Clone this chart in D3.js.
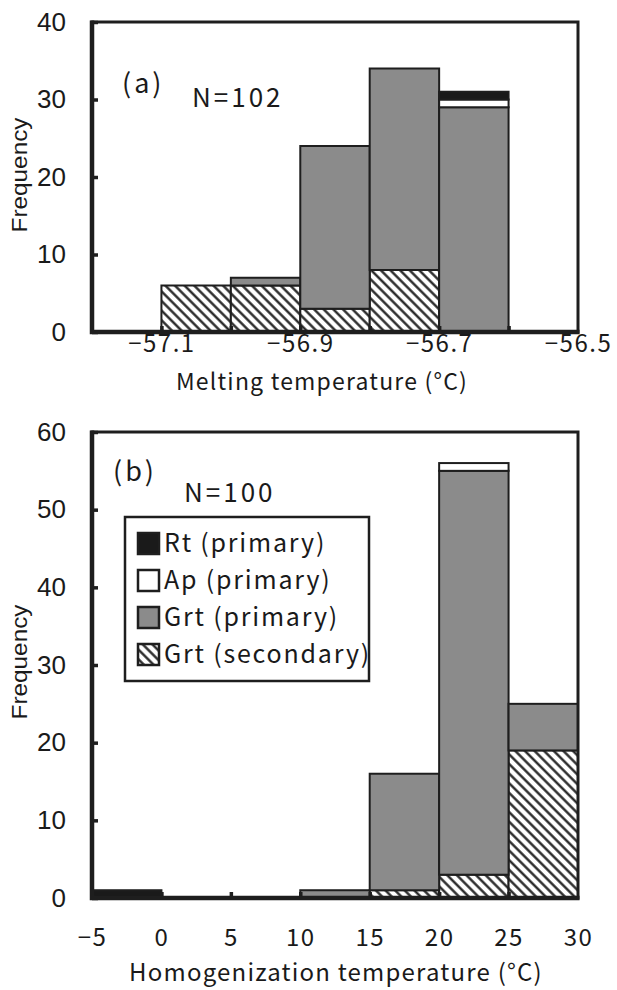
<!DOCTYPE html>
<html>
<head>
  <meta charset="utf-8">
  <title>Fluid inclusion histograms</title>
  <script src="https://d3js.org/d3.v7.min.js"></script>
  <style>
    body { margin: 0; background: #fff; }
    .jp { font-family: "Noto Sans CJK JP", "Noto Sans", sans-serif; fill: #1a1a1a; }
    .num { font-family: "Liberation Sans Narrow", "Liberation Sans", Arial, sans-serif; fill: #1a1a1a; }
  </style>
</head>
<body>
<script>
  // ---- data ----
  // (a) melting temperature, bins 0.1 degC wide (left edges)
  const meltBins = [-57.1, -57.0, -56.9, -56.8, -56.7];
  const meltRt = [0, 0, 0, 0, 1];
  const meltAp = [0, 0, 0, 0, 1];
  const meltGrtPrim = [0, 1, 21, 26, 29];
  const meltGrtSec = [6, 6, 3, 8, 0];
  const meltLabels = [-57.1, -56.9, -56.7, -56.5];
  const meltYTicks = [0, 10, 20, 30, 40];

  // (b) homogenization temperature, bins 5 degC wide (left edges)
  const homBins = [-5, 0, 5, 10, 15, 20, 25];
  const homRt = [1, 0, 0, 0, 0, 0, 0];
  const homAp = [0, 0, 0, 0, 0, 1, 0];
  const homGrtPrim = [0, 0, 0, 1, 15, 52, 6];
  const homGrtSec = [0, 0, 0, 0, 1, 3, 19];
  const homLabels = [-5, 0, 5, 10, 15, 20, 25, 30];
  const homYTicks = [0, 10, 20, 30, 40, 50, 60];

  const seriesKeys = ["sec", "prim", "ap", "rt"]; // bottom -> top
  const legendNames = ["Rt (primary)", "Ap (primary)", "Grt (primary)", "Grt (secondary)"];
  const legendKeys = ["rt", "ap", "prim", "sec"];

  const fills = { sec: "url(#hatch)", prim: "#8b8b8b", ap: "#fff", rt: "#1a1a1a" };
  const ink = "#1e1e1e";

  const svg = d3.select("body").append("svg")
    .attr("width", 617).attr("height", 990);

  const pat = svg.append("defs").append("pattern")
    .attr("id", "hatch")
    .attr("patternUnits", "userSpaceOnUse")
    .attr("width", 6.8).attr("height", 6.8)
    .attr("patternTransform", "rotate(-45)");
  pat.append("rect").attr("width", 6.8).attr("height", 6.8).attr("fill", "#fff");
  pat.append("line").attr("x1", 3.4).attr("x2", 3.4).attr("y1", -1).attr("y2", 8)
    .attr("stroke", ink).attr("stroke-width", 2.3);

  function panel(o) {
    const x = d3.scaleLinear().domain(o.xDomain).range([92, 578]);
    const y = d3.scaleLinear().domain(o.yDomain).range([o.bottom, o.top]);
    const g = svg.append("g");

    const rows = o.bins.map((b, i) => ({
      x0: b, sec: o.sec[i], prim: o.prim[i], ap: o.ap[i], rt: o.rt[i]
    }));
    const stacked = d3.stack().keys(seriesKeys)(rows);

    stacked.forEach(layer => {
      g.append("g").selectAll("rect")
        .data(layer.filter(d => d[1] > d[0]))
        .join("rect")
        .attr("x", d => x(d.data.x0))
        .attr("width", d => x(d.data.x0 + o.binW) - x(d.data.x0))
        .attr("y", d => y(d[1]))
        .attr("height", d => y(d[0]) - y(d[1]))
        .attr("fill", fills[layer.key])
        .attr("stroke", ink)
        .attr("stroke-width", 2);
    });

    // inward tick marks
    g.append("g").attr("transform", `translate(0,${o.bottom})`)
      .call(d3.axisBottom(x).tickValues(o.tickEdges).tickSizeInner(-6).tickSizeOuter(0).tickFormat(""))
      .call(a => a.select(".domain").remove())
      .call(a => a.selectAll("line").attr("stroke", ink).attr("stroke-width", 3.5));
    g.append("g").attr("transform", "translate(92,0)")
      .call(d3.axisLeft(y).tickValues(o.yTicks).tickSizeInner(-6).tickSizeOuter(0).tickFormat(""))
      .call(a => a.select(".domain").remove())
      .call(a => a.selectAll("line").attr("stroke", ink).attr("stroke-width", 3.5));

    // frame
    g.append("rect").attr("x", 92).attr("y", o.top).attr("width", 486).attr("height", o.bottom - o.top)
      .attr("fill", "none").attr("stroke", ink).attr("stroke-width", 3);
    g.append("path").attr("d", `M92,${o.top - 1.5}V${o.bottom}H579.5`)
      .attr("fill", "none").attr("stroke", ink).attr("stroke-width", 4.5);

    // tick labels
    g.append("g").attr("transform", `translate(0,${o.bottom})`)
      .call(d3.axisBottom(x).tickValues(o.xLabels).tickSize(0).tickPadding(o.xPad).tickFormat(o.fmt))
      .call(a => a.select(".domain").remove())
      .call(a => a.selectAll("text").attr("class", "jp").attr("font-size", 24).attr("letter-spacing", 1.5));
    g.append("g").attr("transform", "translate(92,0)")
      .call(d3.axisLeft(y).tickValues(o.yTicks).tickSize(0).tickPadding(26))
      .call(a => a.select(".domain").remove())
      .call(a => a.selectAll("text").attr("class", "num").attr("font-size", 26));

    g.append("text").attr("class", "jp")
      .attr("x", o.titleX).attr("y", o.titleY)
      .attr("text-anchor", "middle").attr("font-size", o.titleSize).attr("letter-spacing", 1.2)
      .text(o.title);

    g.append("text").attr("class", "num")
      .attr("transform", `translate(27,${o.freqY}) rotate(-90)`)
      .attr("text-anchor", "middle").attr("font-size", 22)
      .attr("textLength", 115).attr("lengthAdjust", "spacingAndGlyphs")
      .text("Frequency");

    g.append("text").attr("class", "jp")
      .attr("x", o.tagX).attr("y", o.tagY).attr("font-size", 27).attr("letter-spacing", 3)
      .text(o.tag);
    g.append("text").attr("class", "jp")
      .attr("x", o.nX).attr("y", o.nY).attr("font-size", 26).attr("letter-spacing", 3)
      .text(o.n);
    return g;
  }

  panel({
    xDomain: [-57.2, -56.5], yDomain: [0, 40], top: 22, bottom: 332, binW: 0.1,
    bins: meltBins, sec: meltGrtSec, prim: meltGrtPrim, ap: meltAp, rt: meltRt,
    tickEdges: [-57.1, -57.0, -56.9, -56.8, -56.7, -56.6],
    xLabels: meltLabels, yTicks: meltYTicks, xPad: 3,
    fmt: d3.format(".1f"),
    title: "Melting temperature (°C)", titleX: 322, titleY: 390, titleSize: 23, freqY: 175,
    tag: "(a)", tagX: 122, tagY: 93, n: "N=102", nX: 192, nY: 107
  });

  const pb = panel({
    xDomain: [-5, 30], yDomain: [0, 60], top: 432, bottom: 898, binW: 5,
    bins: homBins, sec: homGrtSec, prim: homGrtPrim, ap: homAp, rt: homRt,
    tickEdges: [0, 5, 10, 15, 20, 25],
    xLabels: homLabels, yTicks: homYTicks, xPad: 31,
    fmt: d3.format("d"),
    title: "Homogenization temperature (°C)", titleX: 336, titleY: 981, titleSize: 24, freqY: 662,
    tag: "(b)", tagX: 113, tagY: 481, n: "N=100", nX: 184, nY: 502
  });

  // legend
  const lg = pb.append("g");
  lg.append("rect").attr("x", 125).attr("y", 517).attr("width", 244).attr("height", 164)
    .attr("fill", "#fff").attr("stroke", ink).attr("stroke-width", 2.5);
  const items = lg.selectAll("g.item").data(legendKeys).join("g")
    .attr("class", "item")
    .attr("transform", (d, i) => `translate(138,${543 + i * 37})`);
  items.append("rect").attr("x", 0).attr("y", -10).attr("width", 21).attr("height", 21)
    .attr("fill", d => fills[d]).attr("stroke", ink).attr("stroke-width", 2.5);
  items.append("text").attr("class", "jp")
    .attr("x", 26).attr("y", 9).attr("font-size", 25).attr("letter-spacing", 1.8)
    .text((d, i) => legendNames[i]);
</script>
</body>
</html>
